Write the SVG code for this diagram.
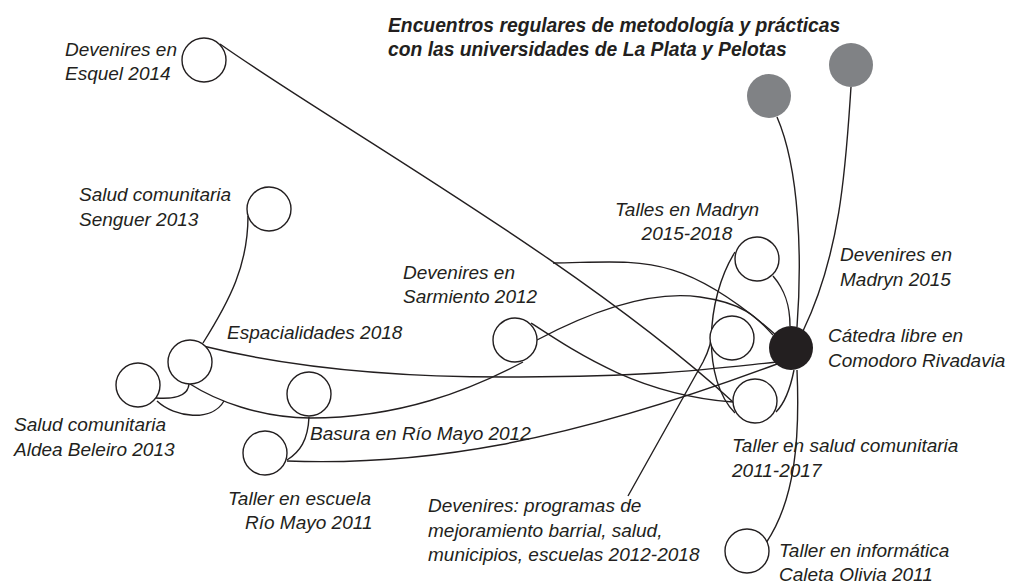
<svg xmlns="http://www.w3.org/2000/svg" width="1013" height="586" viewBox="0 0 1013 586">
<style>
text{font-family:"Liberation Sans",Arial,Helvetica,sans-serif;font-style:italic;font-size:19px;fill:#231f20}
.title{font-weight:bold;font-size:19.3px}
.n{fill:#fff;stroke:#231f20;stroke-width:1.4}
.k{fill:#231f20;stroke:none}
.g{fill:#808285;stroke:none}
#connectors path{fill:none;stroke:#231f20;stroke-width:1.4}
</style>
<rect width="1013" height="586" fill="#fff"/>
<g id="connectors">
<path d="M220,44 C330,122 580,262 733,402"/>
<path d="M553,263 C640,262 680,250 777,336"/>
<path d="M248,216 C248,265 230,300 203,343"/>
<path d="M203,346 C280,365 380,378 520,377 S700,370 777,362"/>
<path d="M190,384 C215,400 260,418 310,418 C400,418 470,390 523,362"/>
<path d="M537,340 C590,312 650,290 700,297 S760,322 773,335"/>
<path d="M531,323 C580,355 640,395 733,402"/>
<path d="M156,398 C170,399 188,398 189,384"/>
<path d="M157,401 C175,418 212,422 224,401"/>
<path d="M309,417 C308,440 300,452 287,460"/>
<path d="M287,461 C420,466 560,445 777,364"/>
<path d="M735,252 C705,300 702,380 735,413"/>
<path d="M628,496 L703,362 Q712,345 712,330"/>
<path d="M773,276 C785,290 790,305 790,326"/>
<path d="M777,117 C800,170 802,260 797,327"/>
<path d="M851,87 C846,160 842,250 803,331"/>
<path d="M794,370 C790,390 783,405 776,412"/>
<path d="M797,370 C800,440 795,500 766,543"/>
</g>
<g id="title">
<text class="title" x="388" y="32">Encuentros regulares de metodología y prácticas</text>
<text class="title" x="388" y="56">con las universidades de La Plata y Pelotas</text>
</g>
<g id="n-esquel"><circle class="n" cx="204" cy="60" r="22"/><text x="65" y="56">Devenires en</text><text x="65" y="80">Esquel 2014</text></g>
<g id="n-senguer"><circle class="n" cx="269" cy="209" r="22"/><text x="79" y="201">Salud comunitaria</text><text x="79" y="226">Senguer 2013</text></g>
<g id="n-espacialidades"><circle class="n" cx="190" cy="362" r="22"/><text x="227" y="339">Espacialidades 2018</text></g>
<g id="n-aldea"><circle class="n" cx="138" cy="385" r="22"/><text x="14" y="431">Salud comunitaria</text><text x="14" y="456">Aldea Beleiro 2013</text></g>
<g id="n-basura"><circle class="n" cx="309" cy="394" r="22"/><text x="310" y="440">Basura en Río Mayo 2012</text></g>
<g id="n-escuela"><circle class="n" cx="265" cy="453" r="22"/><text x="228" y="505">Taller en escuela</text><text x="245" y="529">Río Mayo 2011</text></g>
<g id="n-sarmiento"><circle class="n" cx="515" cy="340" r="22"/><text x="403" y="279">Devenires en</text><text x="403" y="303">Sarmiento 2012</text></g>
<g id="n-talles-madryn"><circle class="n" cx="757" cy="259" r="22"/><text x="687" y="216" text-anchor="middle">Talles en Madryn</text><text x="687" y="240" text-anchor="middle">2015-2018</text></g>
<g id="n-devenires-madryn"><circle class="n" cx="732" cy="338" r="22"/><text x="840" y="261">Devenires en</text><text x="840" y="286">Madryn 2015</text></g>
<g id="n-catedra"><circle class="k" cx="791" cy="348" r="22"/><text x="828" y="342">Cátedra libre en</text><text x="828" y="367">Comodoro Rivadavia</text></g>
<g id="n-salud"><circle class="n" cx="755" cy="401" r="22"/><text x="732" y="452">Taller en salud comunitaria</text><text x="732" y="477">2011-2017</text></g>
<g id="n-informatica"><circle class="n" cx="747" cy="551" r="22"/><text x="779" y="557">Taller en informática</text><text x="779" y="581">Caleta Olivia 2011</text></g>
<g id="n-programas"><text x="428" y="512">Devenires: programas de</text><text x="428" y="537">mejoramiento barrial, salud,</text><text x="428" y="561">municipios, escuelas 2012-2018</text></g>
<g id="n-laplata"><circle class="g" cx="769" cy="96" r="22"/></g>
<g id="n-pelotas"><circle class="g" cx="851" cy="65" r="22"/></g>
</svg>
